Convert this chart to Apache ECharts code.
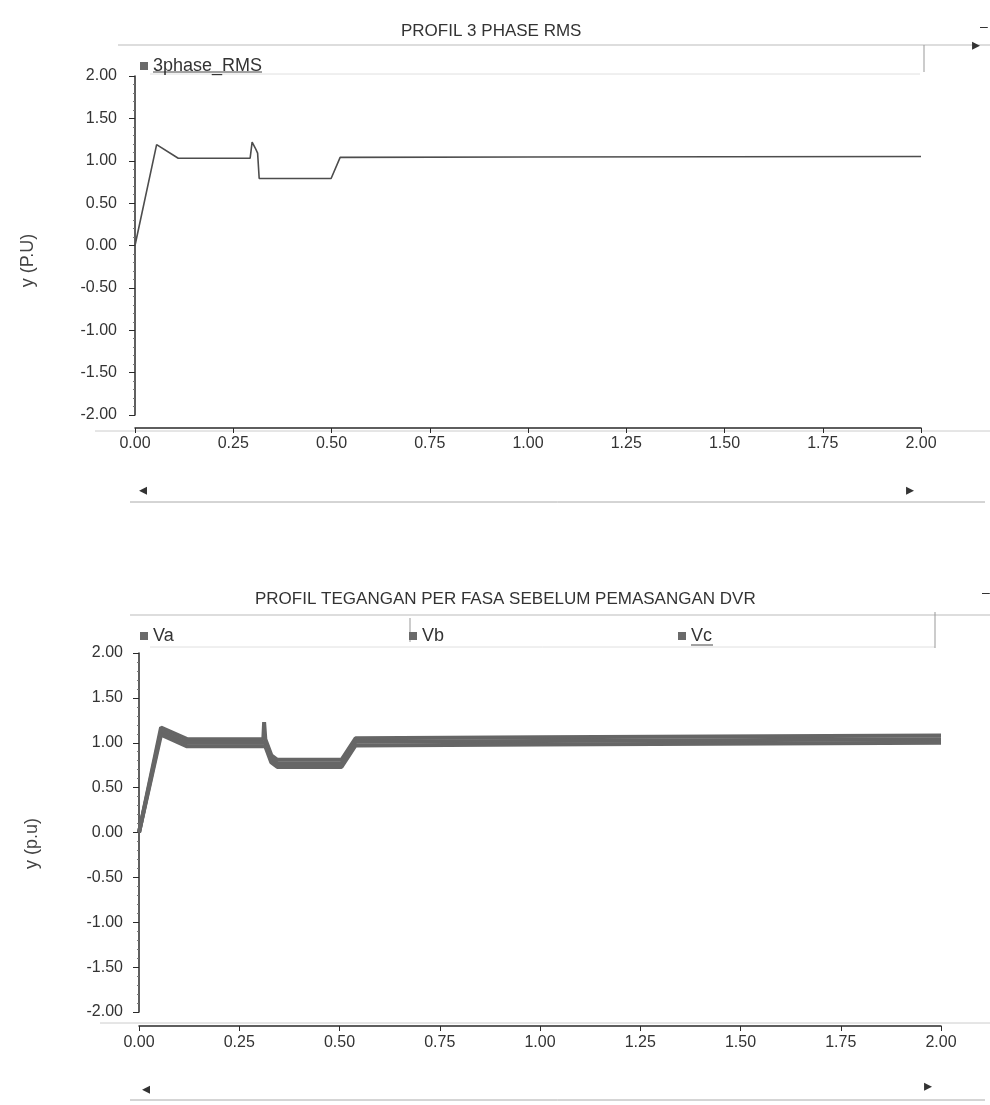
<!DOCTYPE html>
<html>
<head>
<meta charset="utf-8">
<title>Profil 3 Phase RMS</title>
<script src="https://cdn.jsdelivr.net/npm/echarts@6/dist/echarts.min.js"></script>
<style>
  html, body { margin: 0; padding: 0; background: #fff; }
  #chart { width: 990px; height: 1105px; }
</style>
</head>
<body>
<div id="chart"></div>
<script>
// top chart: 3 phase RMS (p.u) against time (s)
const rmsTime = [0, 0.055, 0.11, 0.293, 0.298, 0.306, 0.312, 0.316, 0.499, 0.522, 1.0, 2.0];
const rmsValue = [0, 1.19, 1.03, 1.03, 1.22, 1.15, 1.09, 0.79, 0.79, 1.04, 1.045, 1.05];

// bottom chart: per phase voltage before DVR
const phaseTime = [0, 0.055, 0.12, 0.31, 0.312, 0.315, 0.33, 0.345, 0.505, 0.54, 1.0, 2.0];
const vaValue = [0, 1.17, 1.04, 1.04, 1.23, 1.04, 0.86, 0.81, 0.81, 1.05, 1.06, 1.08];
const vbValue = [0, 1.13, 1.00, 1.00, 1.00, 1.00, 0.82, 0.77, 0.77, 1.01, 1.02, 1.04];
const vcValue = [0, 1.09, 0.96, 0.96, 0.96, 0.96, 0.78, 0.73, 0.73, 0.97, 0.98, 1.00];

const xTicks = [0, 0.25, 0.5, 0.75, 1, 1.25, 1.5, 1.75, 2];
const yTicks = [-2, -1.5, -1, -0.5, 0, 0.5, 1, 1.5, 2];

const font = "'Liberation Sans', Arial, sans-serif";
const ink = '#2a2a2a';

const zip = (xs, ys) => xs.map((x, i) => [x, ys[i]]);

const makeXAxis = (gridIndex, offset, margin) => ({
    type: 'value',
    gridIndex,
    min: xTicks[0],
    max: xTicks[xTicks.length - 1],
    interval: xTicks[1] - xTicks[0],
    offset,
    axisLine: { onZero: false, lineStyle: { color: ink, width: 1.5 } },
    axisTick: { length: 5, lineStyle: { color: ink } },
    axisLabel: {
        formatter: v => v.toFixed(2),
        fontSize: 16,
        fontFamily: font,
        color: '#333',
        margin
    },
    splitLine: { show: false }
});

const makeYAxis = (gridIndex, name, margin, shift) => ({
    type: 'value',
    gridIndex,
    min: yTicks[0],
    max: yTicks[yTicks.length - 1],
    interval: yTicks[1] - yTicks[0],
    name,
    nameLocation: 'middle',
    nameGap: 98,
    nameTextStyle: { fontSize: 18, fontFamily: font, color: '#444', padding: [0, shift, 0, 0] },
    axisLine: { show: true, onZero: false, lineStyle: { color: ink, width: 1.5 } },
    axisTick: { show: true, length: 6, lineStyle: { color: ink } },
    minorTick: { show: true, splitNumber: 5, length: 2, lineStyle: { color: '#777' } },
    axisLabel: {
        formatter: v => v.toFixed(2),
        fontSize: 16,
        fontFamily: font,
        color: '#333',
        margin
    },
    splitLine: { show: false }
});

const legendText = { fontSize: 18, fontFamily: font, color: '#333' };
const makeLegend = (name, left, top) => ({
    data: [name],
    left,
    top,
    icon: 'rect',
    itemWidth: 8,
    itemHeight: 8,
    textStyle: legendText,
    selectedMode: false
});

const hLine = (x1, x2, y, color) => ({
    type: 'line', silent: true,
    shape: { x1, y1: y, x2, y2: y },
    style: { stroke: color, lineWidth: 1 }
});
const vLine = (x, y1, y2, color) => ({
    type: 'line', silent: true,
    shape: { x1: x, y1, x2: x, y2 },
    style: { stroke: color, lineWidth: 1 }
});
const glyph = (text, x, y, size) => ({
    type: 'text', silent: true, x, y,
    style: { text, fill: '#333', fontSize: size, fontFamily: font }
});

const chart = echarts.init(document.getElementById('chart'));

chart.setOption({
    animation: false,
    backgroundColor: '#fff',
    title: [
        {
            text: 'PROFIL 3 PHASE RMS',
            left: 396, top: 18,
            textStyle: { fontSize: 17, fontWeight: 'normal', fontFamily: font, color: '#333' }
        },
        {
            text: 'PROFIL TEGANGAN PER FASA SEBELUM PEMASANGAN DVR',
            left: 250, top: 586,
            textStyle: { fontSize: 17, fontWeight: 'normal', fontFamily: font, color: '#333' }
        }
    ],
    legend: [
        makeLegend('3phase_RMS', 135, 52),
        makeLegend('Va', 135, 622),
        makeLegend('Vb', 404, 622),
        makeLegend('Vc', 673, 622)
    ],
    grid: [
        { left: 135, right: 69, top: 76, height: 339 },
        { left: 139, right: 49, top: 653, height: 359 }
    ],
    xAxis: [makeXAxis(0, 13, 8), makeXAxis(1, 14, 9)],
    yAxis: [makeYAxis(0, 'y (P.U)', 18, 30), makeYAxis(1, 'y (p.u)', 16, 22)],
    series: [
        {
            name: '3phase_RMS', type: 'line', xAxisIndex: 0, yAxisIndex: 0,
            showSymbol: false, color: '#6a6a6a',
            lineStyle: { color: '#4d4d4d', width: 1.6 },
            data: zip(rmsTime, rmsValue)
        },
        {
            name: 'Va', type: 'line', xAxisIndex: 1, yAxisIndex: 1,
            showSymbol: false, color: '#6a6a6a',
            lineStyle: { color: '#666', width: 4 },
            data: zip(phaseTime, vaValue)
        },
        {
            name: 'Vb', type: 'line', xAxisIndex: 1, yAxisIndex: 1,
            showSymbol: false, color: '#6a6a6a',
            lineStyle: { color: '#666', width: 4 },
            data: zip(phaseTime, vbValue)
        },
        {
            name: 'Vc', type: 'line', xAxisIndex: 1, yAxisIndex: 1,
            showSymbol: false, color: '#6a6a6a',
            lineStyle: { color: '#666', width: 4 },
            data: zip(phaseTime, vcValue)
        }
    ],
    graphic: [
        // window frame of the top plot
        hLine(118, 990, 45, '#bbb'),
        hLine(150, 920, 74, '#e0e0e0'),
        vLine(924, 45, 72, '#999'),
        hLine(95, 990, 431, '#ccc'),
        hLine(130, 985, 502, '#aaa'),
        hLine(153, 262, 72, '#444'),
        glyph('\u2013', 980, 20, 14),
        glyph('\u25B8', 972, 38, 16),
        glyph('\u25C2', 139, 483, 16),
        glyph('\u25B8', 906, 483, 16),
        // window frame of the bottom plot
        hLine(130, 990, 615, '#bbb'),
        hLine(150, 935, 647, '#e0e0e0'),
        vLine(410, 618, 642, '#999'),
        vLine(935, 612, 648, '#999'),
        hLine(100, 990, 1023, '#ccc'),
        hLine(130, 985, 1100, '#aaa'),
        hLine(691, 713, 645, '#444'),
        glyph('\u2013', 982, 586, 14),
        glyph('\u25C2', 142, 1082, 16),
        glyph('\u25B8', 924, 1079, 16)
    ]
});
</script>
</body>
</html>
